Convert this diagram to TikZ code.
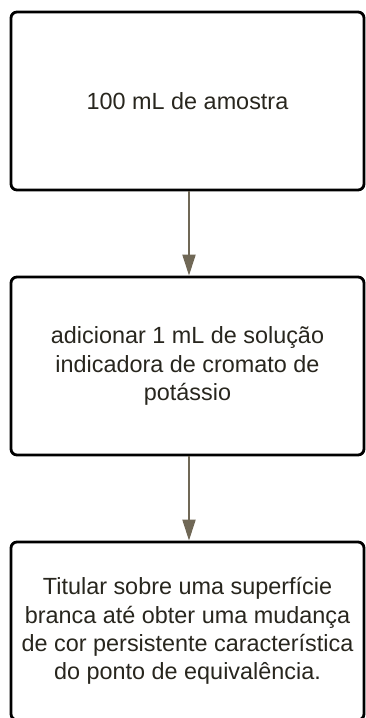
\documentclass[tikz,border=0pt]{standalone}
\usepackage{fontspec}
\setmainfont{Liberation Sans}
\usetikzlibrary{arrows.meta}
\definecolor{flowarrow}{RGB}{112,104,86}
\definecolor{flowtext}{RGB}{40,38,30}
\tikzset{
  flow step/.style={draw=black,line width=2.8pt,rounded corners=6pt,fill=white,
    minimum width=353pt,minimum height=178pt,align=center,text=flowtext,
    font=\fontsize{23.4}{28.2}\selectfont},
  flow link/.style={-{Triangle[length=21pt,width=13pt]},line width=2pt,draw=flowarrow}
}

\begin{document}
\begin{tikzpicture}[x=1pt,y=-1pt]
  \useasboundingbox (0,0) rectangle (365,718);
  \node[flow step] (amostra) at (187.5,101) {100 mL de amostra};
  \node[flow step] (indicador) at (187.5,366) {adicionar 1 mL de solução\\indicadora de cromato de\\potássio};
  \node[flow step] (titular) at (187.5,631) {Titular sobre uma superfície\\branca até obter uma mudança\\de cor persistente característica\\do ponto de equivalência.};
  \draw[flow link] (amostra.south -| 189,0) -- (indicador.north -| 189,0);
  \draw[flow link] (indicador.south -| 189,0) -- (titular.north -| 189,0);
\end{tikzpicture}
\end{document}
